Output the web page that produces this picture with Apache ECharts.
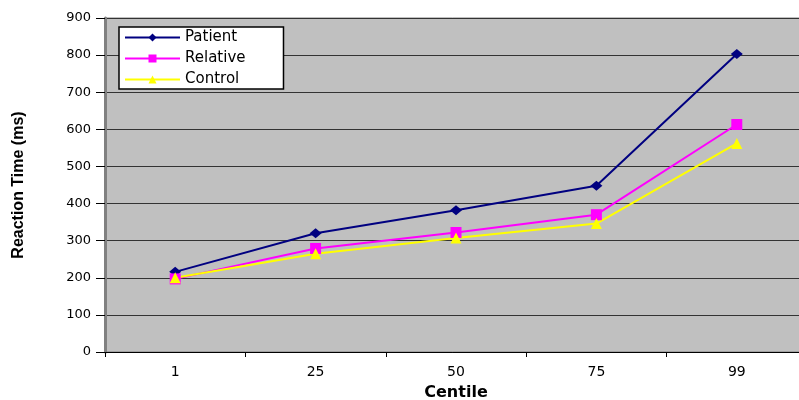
<!DOCTYPE html>
<html><head><meta charset="utf-8">
<script src="https://cdn.jsdelivr.net/npm/echarts@6/dist/echarts.min.js"></script>
<style>html,body{margin:0;padding:0;background:#fff}#c{width:799px;height:400px}</style>
</head><body><div id="c"></div>
<script>
const categories = ['1', '25', '50', '75', '99'];
const patient = [216, 320, 382, 448, 803];
const relative = [197, 279, 322, 370, 613];
const control = [200, 265, 307, 346, 562];
const yTicks = [0, 100, 200, 300, 400, 500, 600, 700, 800, 900];

const chart = echarts.init(document.getElementById('c'));
const font = 'DejaVu Sans, Liberation Sans, Arial, sans-serif';
chart.setOption({
  animation: false,
  backgroundColor: '#fff',
  grid: { left: 105, right: -8, top: 18, bottom: 48, containLabel: false, outerBoundsMode: 'none',
    show: true, backgroundColor: '#c0c0c0', borderColor: '#808080', borderWidth: 1 },
  legend: {
    orient: 'vertical', left: 119, top: 27, itemWidth: 55, itemHeight: 10, itemGap: 6,
    backgroundColor: '#fff', borderColor: '#000', borderWidth: 1.5, padding: [3, 38, 2, 5],
    textStyle: { fontFamily: font, fontSize: 15, color: '#000' },
    data: ['Patient', 'Relative', 'Control']
  },
  xAxis: {
    type: 'category', data: categories, boundaryGap: true,
    name: 'Centile', nameLocation: 'middle', nameGap: 33,
    nameTextStyle: { fontFamily: font, fontSize: 16, fontWeight: 'bold', color: '#000' },
    axisLine: { lineStyle: { color: '#000', width: 1 } },
    axisTick: { show: true, length: 5, lineStyle: { color: '#000' } },
    axisLabel: { fontFamily: font, fontSize: 14, color: '#000', margin: 13 }
  },
  yAxis: {
    type: 'value', min: yTicks[0], max: yTicks[yTicks.length - 1], interval: 100,
    name: 'Reaction Time (ms)', nameLocation: 'middle', nameGap: 78, nameRotate: 90,
    nameTextStyle: { fontFamily: 'Liberation Sans Narrow, Arial Narrow, Liberation Sans, sans-serif', fontSize: 16, fontWeight: 'bold', color: '#000' },
    axisLine: { show: true, lineStyle: { color: '#808080', width: 3 } },
    axisTick: { show: true, length: 9, inside: false, lineStyle: { color: '#000' } },
    axisLabel: { fontFamily: font, fontSize: 13, color: '#000', margin: 14 },
    splitLine: { show: true, lineStyle: { color: '#333', width: 1.2 } }
  },
  series: [
    { name: 'Patient', type: 'line', data: patient, symbol: 'diamond', symbolSize: [12, 10],
      itemStyle: { color: '#000080' }, lineStyle: { color: '#000080', width: 2 } },
    { name: 'Relative', type: 'line', data: relative, symbol: 'rect', symbolSize: 11,
      itemStyle: { color: '#ff00ff' }, lineStyle: { color: '#ff00ff', width: 2 } },
    { name: 'Control', type: 'line', data: control, symbol: 'triangle', symbolSize: 11,
      itemStyle: { color: '#ffff00' }, lineStyle: { color: '#ffff00', width: 2 } }
  ]
});
</script></body></html>
